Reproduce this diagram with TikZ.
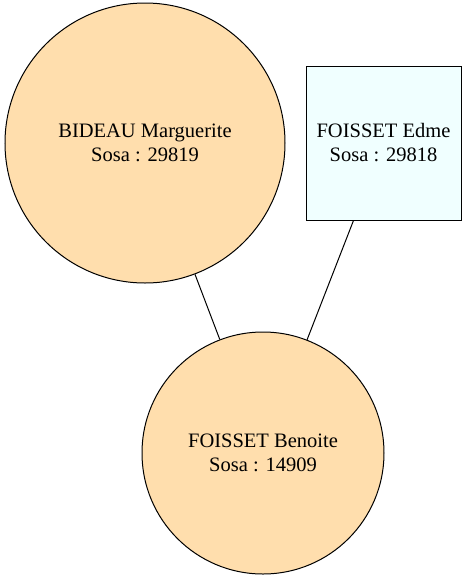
\documentclass[tikz,border=0pt]{standalone}
\usepackage{fontspec}
\setmainfont{Liberation Serif}
\definecolor{personfill}{HTML}{FFDEAD}
\definecolor{boxfill}{HTML}{F0FFFF}
\tikzset{
	woman/.style={circle,draw,fill=personfill,inner sep=0pt,align=center,font=\fontsize{20.5}{24}\selectfont},
	man/.style={rectangle,draw,fill=boxfill,inner sep=0pt,align=center,font=\fontsize{20.5}{24}\selectfont},
}

\begin{document}
\begin{tikzpicture}[x=1pt,y=-1pt,line width=1pt]
	\useasboundingbox (0,0) rectangle (467,579);
	\node[woman,minimum size=280pt] (bideau) at (145,143) {BIDEAU Marguerite\\Sosa : 29819};
	\node[man,minimum width=155pt,minimum height=154pt] (edme) at (383.5,143) {FOISSET Edme\\Sosa : 29818};
	\node[woman,minimum size=242pt] (benoite) at (263,453) {FOISSET Benoite\\Sosa : 14909};
	\draw (bideau) -- (benoite);
	\draw (edme.south)+(-30,0) coordinate (e) -- (benoite);
\end{tikzpicture}
\end{document}
